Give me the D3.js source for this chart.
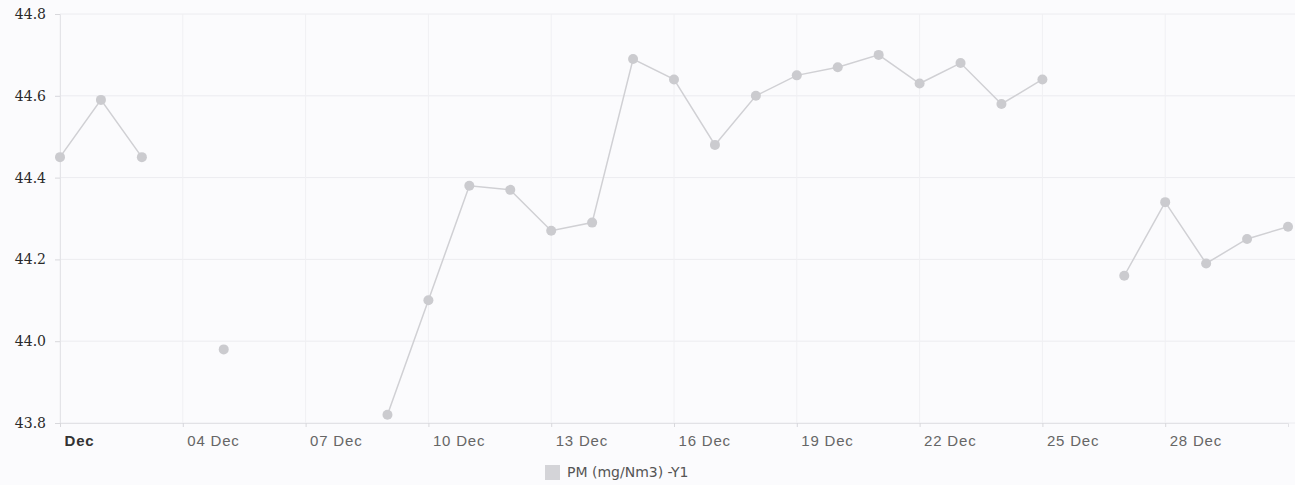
<!DOCTYPE html>
<html><head><meta charset="utf-8">
<script src="https://cdn.jsdelivr.net/npm/d3@7"></script>
<style>
html,body{margin:0;padding:0;background:#fbfbfd;}
svg{display:block;font-family:"DejaVu Sans",Verdana,sans-serif;}
</style></head>
<body>
<svg id="chart" width="1295" height="485"></svg>
<script>
// Days of December (1..31)
const days = d3.range(1, 32);
// PM values (mg/Nm3), null = no data
const pmValues = [44.45, 44.59, 44.45, null, 43.98, null, null, null, 43.82, 44.10,
                  44.38, 44.37, 44.27, 44.29, 44.69, 44.64, 44.48, 44.60, 44.65, 44.67,
                  44.70, 44.63, 44.68, 44.58, 44.64, null, 44.16, 44.34, 44.19, 44.25, 44.28];
const yTicks = [43.8, 44.0, 44.2, 44.4, 44.6, 44.8];
const xTickDays = [1, 4, 7, 10, 13, 16, 19, 22, 25, 28];
const legendLabel = "PM (mg/Nm3) -Y1";

(function () {
const svg = d3.select("#chart");
const pLeft = 60, pRight = 1288, pTop = 14, pBottom = 423;

const x = d3.scaleUtc()
  .domain([new Date(Date.UTC(2020, 11, 1)), new Date(Date.UTC(2020, 11, 31))])
  .range([pLeft, pRight]);
const y = d3.scaleLinear().domain([43.8, 44.8]).range([pBottom, pTop]);

const data = days.map((d, i) => ({date: new Date(Date.UTC(2020, 11, d)), v: pmValues[i]}));
const tickDates = xTickDays.map(d => new Date(Date.UTC(2020, 11, d)));

// horizontal gridlines
svg.append("g").selectAll("line").data(yTicks).join("line")
  .attr("x1", pLeft).attr("x2", 1295)
  .attr("y1", d => y(d)).attr("y2", d => y(d))
  .attr("stroke", "#ececf0").attr("stroke-width", 1);

// vertical gridlines
svg.append("g").selectAll("line").data(tickDates).join("line")
  .attr("x1", d => x(d)).attr("x2", d => x(d))
  .attr("y1", pTop).attr("y2", pBottom)
  .attr("stroke", "#f0f0f3").attr("stroke-width", 1);

// y axis
const yAxis = svg.append("g").attr("transform", `translate(${pLeft},0)`)
  .call(d3.axisLeft(y).tickValues(yTicks).tickFormat(d3.format(".1f")).tickSize(5).tickPadding(9));
yAxis.select(".domain").attr("stroke", "#e4e4e8");
yAxis.selectAll(".tick line").attr("stroke", "#d8d8dc");
yAxis.selectAll("text").attr("fill", "#2a2a2a").style("font-size", "14px")
  .style("font-family", "'DejaVu Serif', serif");

// x axis
const xAxis = svg.append("g").attr("transform", `translate(0,${pBottom})`)
  .call(d3.axisBottom(x).tickValues(tickDates).tickSize(4).tickFormat(d => d.getUTCDate() === 1 ? "Dec" : d3.utcFormat("%d %b")(d)));
xAxis.select(".domain").attr("stroke", "#e2e2e6");
xAxis.selectAll(".tick line").attr("stroke", "#d8d8dc");
xAxis.selectAll("text")
  .attr("text-anchor", "start").attr("x", 4).attr("y", 12)
  .attr("fill", d => d.getUTCDate() === 1 ? "#333" : "#666")
  .style("font-weight", d => d.getUTCDate() === 1 ? "bold" : "normal")
  .style("letter-spacing", "0.8px")
  .style("font-size", "15px");

// line
const line = d3.line().defined(d => d.v !== null).x(d => x(d.date)).y(d => y(d.v));
svg.append("path").datum(data).attr("d", line)
  .attr("fill", "none").attr("stroke", "#d0d0d4").attr("stroke-width", 1.5);

// markers
svg.append("g").selectAll("circle").data(data.filter(d => d.v !== null)).join("circle")
  .attr("cx", d => x(d.date)).attr("cy", d => y(d.v)).attr("r", 5)
  .attr("fill", "#cbcbcf");

// legend
const lg = svg.append("g").attr("transform", "translate(545,465)");
lg.append("rect").attr("width", 15).attr("height", 15).attr("fill", "#d4d4d8");
lg.append("text").attr("x", 22).attr("y", 12).text(legendLabel)
  .attr("fill", "#555").style("font-size", "14px");
})();
</script>
</body></html>
